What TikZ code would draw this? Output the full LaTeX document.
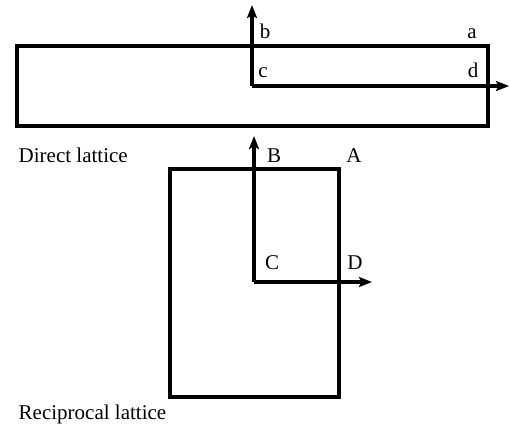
\documentclass[tikz,border=0pt]{standalone}
\usepackage{fontspec}
\setmainfont{Liberation Serif}
\usetikzlibrary{arrows.meta}
\begin{document}
\begin{tikzpicture}[x=1pt, y=-1pt, line width=3.4pt,
  vec/.style={-{Stealth[length=13pt, width=10pt, inset=2.5pt]}},
  lbl/.style={anchor=base, inner sep=0pt, font=\fontsize{21}{24}\selectfont}]
  \useasboundingbox (0,0) rectangle (510,434);
  % direct lattice
  \draw (17,46) rectangle (488,126);
  \coordinate (o1) at (252,86);
  \coordinate (b1) at (252,5);
  \coordinate (a1) at (509,86);
  \draw[vec] (o1) -- (b1);
  \draw[vec] (o1) -- (a1);
  \node[lbl] (b) at (265,38) {b};
  \node[lbl] (a) at (472,38) {a};
  \node[lbl] (c) at (263,77) {c};
  \node[lbl] (d) at (473,77) {d};
  \node[lbl, anchor=base west] (direct) at (17,162) {Direct lattice};
  % reciprocal lattice
  \draw (170,169) rectangle (339,397);
  \coordinate (o2) at (254,282);
  \coordinate (b2) at (254,136);
  \coordinate (a2) at (372,282);
  \draw[vec] (o2) -- (b2);
  \draw[vec] (o2) -- (a2);
  \node[lbl] (B) at (274,162) {B};
  \node[lbl] (A) at (354,162) {A};
  \node[lbl] (C) at (272,269) {C};
  \node[lbl] (D) at (355,269) {D};
  \node[lbl, anchor=base west] (recip) at (17,419) {Reciprocal lattice};
\end{tikzpicture}
\end{document}
